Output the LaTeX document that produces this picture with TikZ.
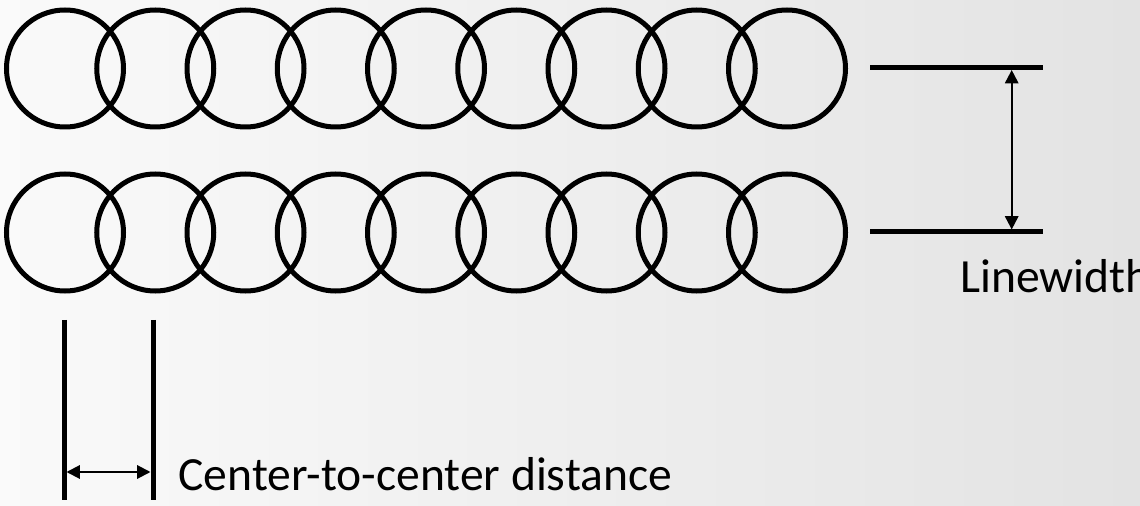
\documentclass[tikz,border=0pt]{standalone}
\usepackage{fontspec}
\setmainfont{Carlito}
\usetikzlibrary{arrows.meta}

\tikzset{every picture/.style={line width=0.75pt}}
\tikzset{
  ring/.style={draw, circle, line width=3.75, minimum size=87.75pt, inner sep=0pt},
  bar/.style={line width=3.75},
  dimarrow/.style={line width=1.5, {Triangle[width=10pt,length=10pt]}-{Triangle[width=10pt,length=10pt]}},
  dimtext/.style={anchor=base west, inner sep=0pt, font=\fontsize{35.7}{43}\selectfont}
}

\begin{document}
\begin{tikzpicture}[x=0.75pt,y=0.75pt,yscale=-1,xscale=1]
\useasboundingbox (0,0) rectangle (1140,506);

%Background
\shade [left color=white!98!black, right color=white!89!black] (0,0) rectangle (1140,506);

%Shape: Circles (two rows of nine)
\foreach \i in {1,...,9} {
  \node [ring] (t\i) at ({65+90.25*(\i-1)},68.5) {};
  \node [ring] (b\i) at ({65+90.25*(\i-1)},232.5) {};
}

%Straight Lines: line width marks
\coordinate (lwtopL) at (870,67.5);
\coordinate (lwtopR) at (1043,67.5);
\coordinate (lwbotL) at (870,231.7);
\coordinate (lwbotR) at (1043,231.7);
\draw [bar] (lwtopL) -- (lwtopR) ;
\draw [bar] (lwbotL) -- (lwbotR) ;
\coordinate (lwA) at (1011.7,70);
\coordinate (lwB) at (1011.7,229.5);
\draw [dimarrow] (lwA) -- (lwB) ;

%Straight Lines: center-to-center marks
\coordinate (ccL1) at (64,320);
\coordinate (ccL2) at (64,500);
\coordinate (ccR1) at (153,320);
\coordinate (ccR2) at (153,500);
\draw [bar] (ccL1) -- (ccL2) ;
\draw [bar] (ccR1) -- (ccR2) ;
\coordinate (ccA) at (66.5,472);
\coordinate (ccB) at (150.5,472);
\draw [dimarrow] (ccA) -- (ccB) ;

% Text Node
\node [dimtext] (lwtext) at (960,293) {Linewidth};
% Text Node
\node [dimtext] (cctext) at (178,490) {Center-to-center distance};

\end{tikzpicture}
\end{document}
